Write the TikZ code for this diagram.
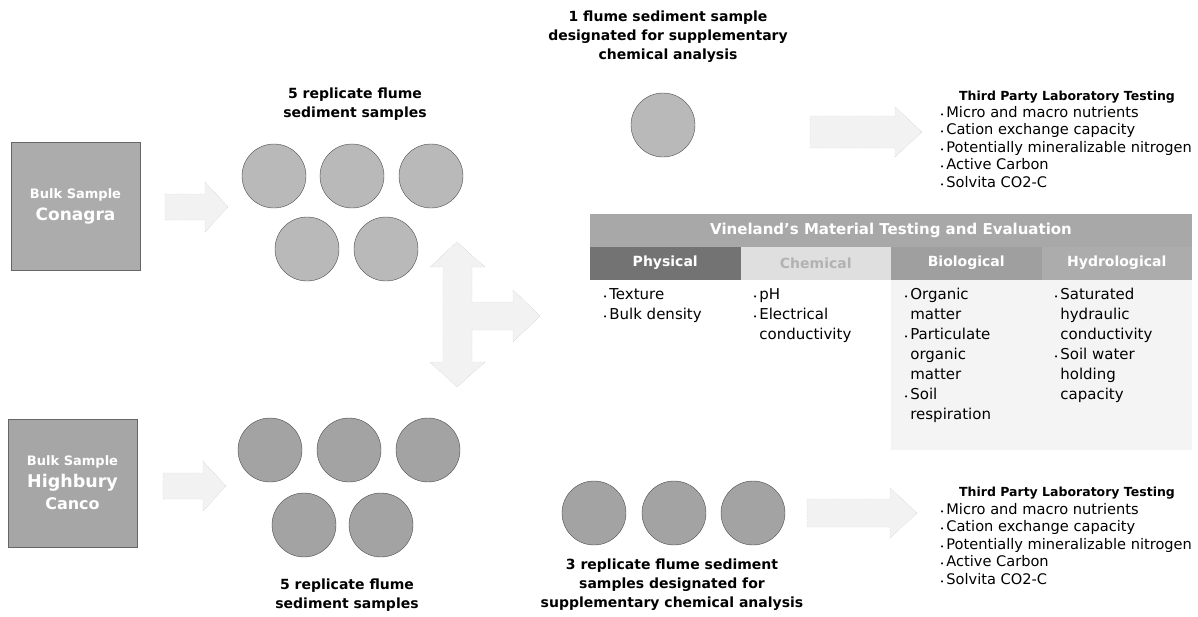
\documentclass[tikz,border=0pt]{standalone}
\usepackage{fontspec}
\setmainfont{DejaVu Sans}
\usepackage{tikz}

\newcommand{\bul}{{\scriptsize\textbullet}\hspace{2pt}}
\newcommand{\nob}{\phantom{\bul}}

\tikzset{
  bulkbox/.style={draw=gray!80!black,fill=gray!65,minimum width=129pt,minimum height=128pt,
    text=white,font=\bfseries\fontsize{13}{22}\selectfont,align=center},
  flume/.style={circle,draw=gray!60!black,fill=gray!55,minimum size=64pt,inner sep=0pt},
  flumedark/.style={flume,fill=gray!72},
  blockarr/.style={draw=gray!55,densely dotted,fill=gray!10},
  caption/.style={font=\bfseries\fontsize{14}{19}\selectfont,align=center},
  bullist/.style={font=\fontsize{14.6}{17.5}\selectfont,align=left,anchor=north west,inner sep=0pt},
  tablist/.style={bullist,font=\fontsize{15}{20}\selectfont},
  headcell/.style={minimum height=33pt,minimum width=150.5pt,inner sep=0pt,text=white,font=\bfseries\fontsize{14}{16}\selectfont},
  labtitle/.style={font=\bfseries\fontsize{12.5}{14}\selectfont},
}

\begin{document}
\begin{tikzpicture}[x=1pt,y=-1pt]
  \useasboundingbox (0,0) rectangle (1198,616);

  % Conagra branch
  \node[bulkbox] (conagra) at (75.5,206) {Bulk Sample\\{\fontsize{17}{22}\selectfont Conagra}};
  \draw[blockarr] (165,194) -- (205,194) -- (205,182) -- (228,207) -- (205,232) -- (205,220) -- (165,220) -- cycle;
  \node[caption] (toplabel) at (355,104) {5 replicate flume\\sediment samples};
  \node[flume] (ct1) at (274,176) {};
  \node[flume] (ct2) at (352,176) {};
  \node[flume] (ct3) at (431,176) {};
  \node[flume] (ct4) at (307,249) {};
  \node[flume] (ct5) at (386,249) {};

  % Highbury Canco branch
  \node[bulkbox,fill=gray!70] (highbury) at (72.5,483) {Bulk Sample\\{\fontsize{17.5}{23}\selectfont Highbury}\\{\fontsize{16}{23}\selectfont Canco}};
  \draw[blockarr] (163,473) -- (203,473) -- (203,461) -- (226,486) -- (203,511) -- (203,499) -- (163,499) -- cycle;
  \node[flumedark] (hc1) at (270,450) {};
  \node[flumedark] (hc2) at (349,450) {};
  \node[flumedark] (hc3) at (428,450) {};
  \node[flumedark] (hc4) at (304,525) {};
  \node[flumedark] (hc5) at (381,525) {};
  \node[caption] (botlabel) at (347,595) {5 replicate flume\\sediment samples};

  % split arrow
  \draw[blockarr] (457,242) -- (485,267) -- (472,267) -- (472,302) -- (513,302) -- (513,290) -- (540,316)
    -- (513,342) -- (513,330) -- (472,330) -- (472,362) -- (485,362) -- (457,387) -- (430,362)
    -- (443,362) -- (443,267) -- (430,267) -- cycle;

  % supplementary, top
  \node[caption] (onelabel) at (668,37) {1 flume sediment sample\\designated for supplementary\\chemical analysis};
  \node[flume] (one) at (663,125) {};
  \draw[blockarr] (810,116) -- (895,116) -- (895,107) -- (922,132) -- (895,157) -- (895,148) -- (810,148) -- cycle;
  \node[labtitle] (tpt1) at (1067,97) {Third Party Laboratory Testing};
  \node[bullist] (tpl1) at (940,106) {\bul Micro and macro nutrients\\\bul Cation exchange capacity\\\bul Potentially mineralizable nitrogen\\\bul Active Carbon\\\bul Solvita CO2-C};

  % Vineland table
  \fill[gray!9] (891,280) rectangle (1192,450);
  \node[headcell,fill=gray!68,minimum width=602pt] (vtitle) at (891,230) {\fontsize{15}{17}\selectfont Vineland's Material Testing and Evaluation};
  \node[headcell,fill=gray!90!black] (phys) at (665.25,263) {Physical};
  \node[headcell,fill=gray!25,text=gray!60] (chem) at (815.75,263) {Chemical};
  \node[headcell,fill=gray!75] (bio) at (966.25,263) {Biological};
  \node[headcell,fill=gray!65] (hydro) at (1116.75,263) {Hydrological};
  \node[tablist] (physl) at (603,288) {\bul Texture\\\bul Bulk density};
  \node[tablist] (chenl) at (753,288) {\bul pH\\\bul Electrical\\\nob conductivity};
  \node[tablist] (biol) at (904,288) {\bul Organic\\\nob matter\\\bul Particulate\\\nob organic\\\nob matter\\\bul Soil\\\nob respiration};
  \node[tablist] (hydrol) at (1054,288) {\bul Saturated\\\nob hydraulic\\\nob conductivity\\\bul Soil water\\\nob holding\\\nob capacity};

  % supplementary, bottom
  \node[flumedark] (th1) at (594,513) {};
  \node[flumedark] (th2) at (674,513) {};
  \node[flumedark] (th3) at (753,513) {};
  \node[caption] (threelabel) at (672,585) {3 replicate flume sediment\\samples designated for\\supplementary chemical analysis};
  \draw[blockarr] (807,499) -- (890,499) -- (890,488) -- (917,513) -- (890,538) -- (890,527) -- (807,527) -- cycle;
  \node[labtitle] (tpt2) at (1067,493) {Third Party Laboratory Testing};
  \node[bullist] (tpl2) at (940,503) {\bul Micro and macro nutrients\\\bul Cation exchange capacity\\\bul Potentially mineralizable nitrogen\\\bul Active Carbon\\\bul Solvita CO2-C};
\end{tikzpicture}
\end{document}
